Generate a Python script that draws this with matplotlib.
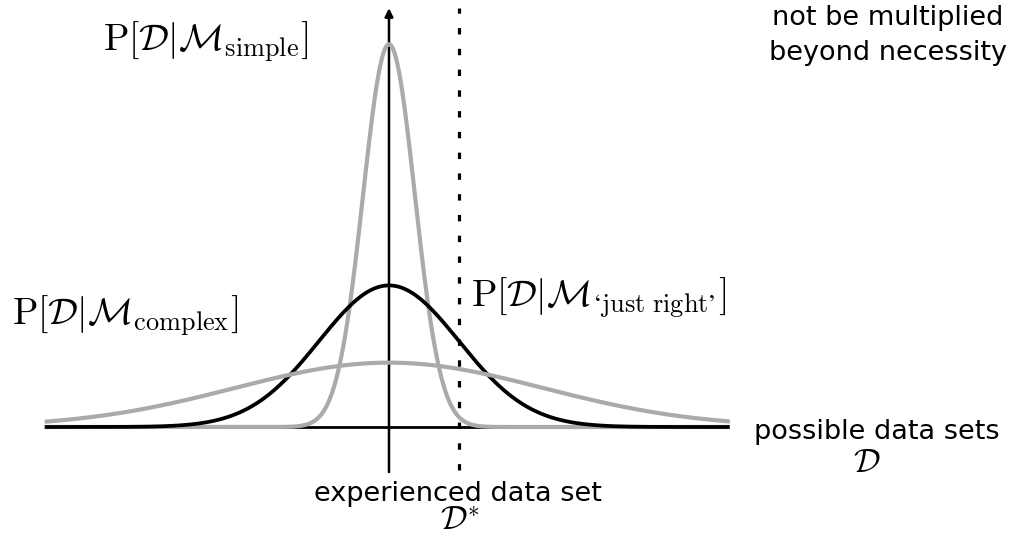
import numpy as np
import matplotlib
matplotlib.use('Agg')
import matplotlib.pyplot as plt

plt.rcParams['mathtext.fontset'] = 'cm'
plt.rcParams['font.family'] = ['DejaVu Sans']

# Three model evidences, all normalised densities centred on the observed data
model_names = ['simple', 'just right', 'complex']
model_sigmas = [0.37, 1.0, 2.2]
model_colors = ['#aaaaaa', 'black', '#aaaaaa']
model_widths = [3.0, 2.7, 3.0]
x_extent = [-4.89, 4.84]
observed_x = 1.0

fig = plt.figure(figsize=(10.15, 5.42), dpi=100)
ax = fig.add_axes([0, 0, 1, 1])
ax.set_xlim(-5.557, 8.943)
ax.set_ylim(-0.324, 1.203)
ax.axis('off')

x = np.linspace(x_extent[0], x_extent[1], 1200)

# horizontal axis
ax.plot(x_extent, [0, 0], color='black', lw=2.0, solid_capstyle='round', zorder=1)

# vertical axis with arrow
ax.annotate('', xy=(0, 1.18), xytext=(0, -0.127),
            arrowprops=dict(arrowstyle='-|>', color='black', lw=1.8,
                            mutation_scale=12, shrinkA=0, shrinkB=0),
            zorder=2)

for sig, col, lw in zip(model_sigmas, model_colors, model_widths):
    y = np.exp(-x**2 / (2 * sig**2)) / (sig * np.sqrt(2 * np.pi))
    ax.plot(x, y, color=col, lw=lw, zorder=3)

# observed data set
ax.plot([observed_x, observed_x], [-0.121, 1.18], color='black', lw=2.3,
        linestyle=(0, (2, 4.5)), zorder=4)

H = 542


def label(px, py, s, size):
    ax.text(px, H - py, s, transform=None, fontsize=size, ha='center', va='center')


label(206, 42, r'$\mathrm{P}[\mathcal{D}|\mathcal{M}_{\mathrm{simple}}]$', 27)
label(125, 316, r'$\mathrm{P}[\mathcal{D}|\mathcal{M}_{\mathrm{complex}}]$', 27)
label(599, 298, r'$\mathrm{P}[\mathcal{D}|\mathcal{M}_{\mathrm{‘just\ right’}}]$', 27)

label(877, 432, 'possible data sets', 19.5)
label(458, 494, 'experienced data set', 19.5)
label(888, 18, 'not be multiplied', 19.5)
label(888, 53, 'beyond necessity', 19.5)

label(867, 463, r'$\mathcal{D}$', 24)
label(460, 521, r'$\mathcal{D}^{*}$', 24)

fig.savefig('out.png', dpi=100)
